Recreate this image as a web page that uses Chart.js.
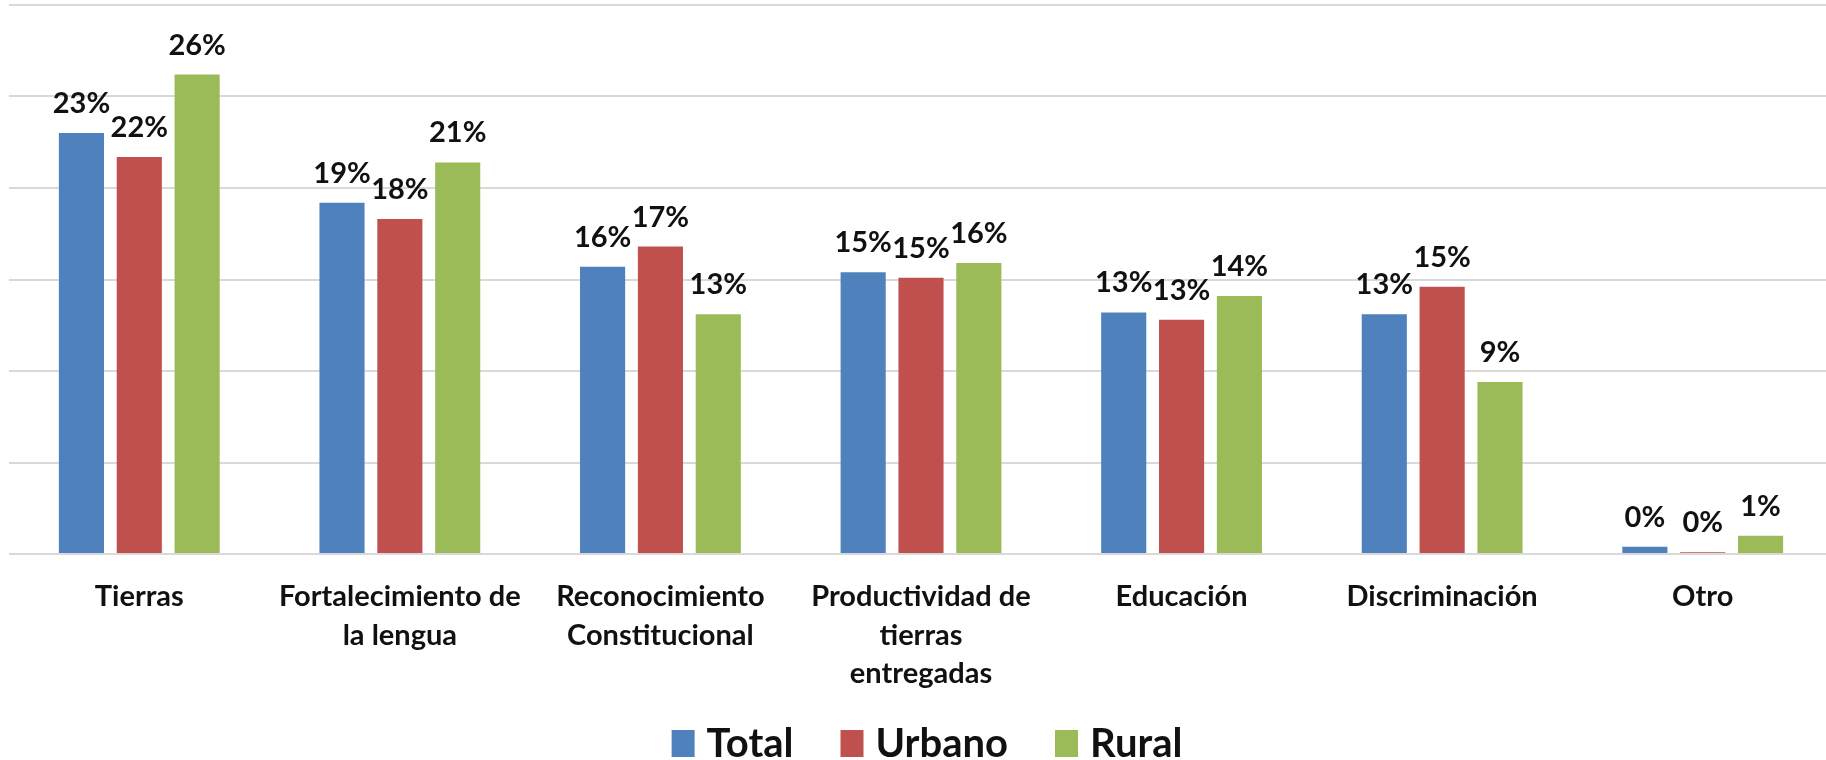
<!DOCTYPE html>
<html lang="es">
<head>
<meta charset="utf-8">
<title>Prioridades</title>
<script src="https://cdn.jsdelivr.net/npm/chart.js@4.4.1/dist/chart.umd.min.js"></script>
<style>
    html, body { margin: 0; padding: 0; background: #fff; overflow: hidden; }
    #wrap { width: 1833px; height: 760px; }
</style>
</head>
<body>
<div id="wrap"><canvas id="mainChart" width="1833" height="760"></canvas></div>
<script>
// Datos (en %)
const categories = [
    'Tierras',
    ['Fortalecimiento de', 'la lengua'],
    ['Reconocimiento', 'Constitucional'],
    ['Productividad de', 'tierras', 'entregadas'],
    'Educación',
    'Discriminación',
    'Otro'
];
const totalValues  = [23.0, 19.2, 15.7, 15.4, 13.2, 13.1, 0.4];
const urbanoValues = [21.7, 18.3, 16.8, 15.1, 12.8, 14.6, 0.1];
const ruralValues  = [26.2, 21.4, 13.1, 15.9, 14.1, 9.4, 1.0];
const yTicks = [0, 5, 10, 15, 20, 25, 30];

const FONT = "Lato, 'Open Sans', sans-serif";
const TEXT_COLOR = '#111111';

// etiquetas de valor encima de cada barra
const valueLabels = {
    id: 'valueLabels',
    afterDatasetsDraw(chart) {
        const ctx = chart.ctx;
        ctx.save();
        ctx.font = "bold 29px " + FONT;
        ctx.fillStyle = TEXT_COLOR;
        ctx.textAlign = 'center';
        ctx.textBaseline = 'alphabetic';
        chart.data.datasets.forEach((ds, i) => {
            const meta = chart.getDatasetMeta(i);
            meta.data.forEach((bar, j) => {
                ctx.fillText(Math.round(ds.data[j]) + '%', bar.x, bar.y - 20);
            });
        });
        ctx.restore();
    }
};

// leyenda abajo, dibujada a mano para controlar el espaciado
const bottomLegend = {
    id: 'bottomLegend',
    afterDraw(chart) {
        const ctx = chart.ctx;
        const boxW = 23, boxH = 27, gapText = 12, gapItem = 47;
        const centerX = 927, baseY = 757;
        ctx.save();
        ctx.font = "bold 40px " + FONT;
        ctx.textBaseline = 'alphabetic';
        ctx.textAlign = 'left';
        const items = chart.data.datasets.map(ds => ({
            text: ds.label,
            color: ds.backgroundColor,
            w: ctx.measureText(ds.label).width
        }));
        let total = 0;
        items.forEach((it, i) => {
            total += boxW + gapText + it.w + (i < items.length - 1 ? gapItem : 0);
        });
        let x = centerX - total / 2;
        items.forEach(it => {
            ctx.fillStyle = it.color;
            ctx.fillRect(x, 743.5 - boxH / 2, boxW, boxH);
            ctx.fillStyle = TEXT_COLOR;
            ctx.fillText(it.text, x + boxW + gapText, baseY);
            x += boxW + gapText + it.w + gapItem;
        });
        ctx.restore();
    }
};

new Chart(document.getElementById('mainChart'), {
    type: 'bar',
    data: {
        labels: categories,
        datasets: [
            { label: 'Total',  data: totalValues,  backgroundColor: '#4F81BD' },
            { label: 'Urbano', data: urbanoValues, backgroundColor: '#C0504D' },
            { label: 'Rural',  data: ruralValues,  backgroundColor: '#9BBB59' }
        ]
    },
    options: {
        responsive: false,
        animation: false,
        datasets: {
            bar: { categoryPercentage: 0.666, barPercentage: 0.78 }
        },
        layout: { padding: { left: 9, right: 0, top: 5, bottom: 66 } },
        plugins: {
            legend: { display: false },
            tooltip: { enabled: false }
        },
        scales: {
            x: {
                grid: { display: false, drawTicks: false },
                border: { display: false },
                ticks: {
                    font: { family: FONT, size: 29, weight: 'bold', lineHeight: 1.32 },
                    color: TEXT_COLOR,
                    padding: 24,
                    maxRotation: 0,
                    autoSkip: false
                },
                afterFit(scale) { scale.height = 140; }
            },
            y: {
                min: 0,
                max: 30,
                afterBuildTicks(scale) { scale.ticks = yTicks.map(v => ({ value: v })); },
                ticks: { display: false },
                grid: { color: '#d9d9d9', lineWidth: 2, drawTicks: false },
                border: { display: false }
            }
        }
    },
    plugins: [valueLabels, bottomLegend]
});
</script>
</body>
</html>
